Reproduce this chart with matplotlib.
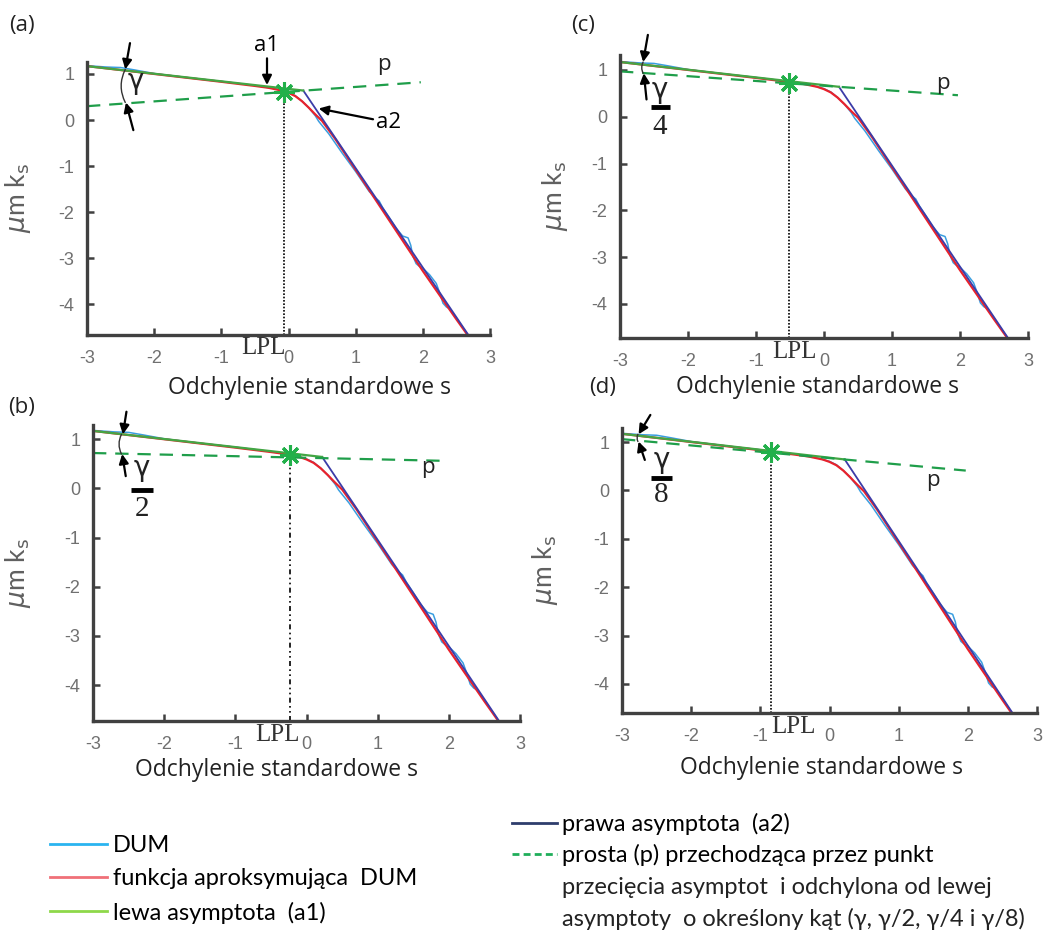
import matplotlib
matplotlib.use("Agg")
import matplotlib.pyplot as plt
from matplotlib.lines import Line2D
from matplotlib.transforms import blended_transform_factory

# --- data ---
# DUM (empirical curve), same in all four panels
dum_x = [-3.0, -2.7, -2.5, -2.3, -2.0, -1.5, -1.0, -0.5, -0.2, 0.0, 0.1, 0.2, 0.3, 0.4, 0.45,
         0.5, 0.6, 0.8, 1.0, 1.2, 1.3, 1.35, 1.4, 1.5, 1.6, 1.7, 1.78, 1.82, 1.85, 1.9, 1.95,
         2.0, 2.1, 2.2, 2.25, 2.3, 2.35, 2.4, 2.5, 2.6, 2.72]
dum_y = [1.18, 1.15, 1.14, 1.09, 1.01, 0.92, 0.84, 0.75, 0.68, 0.60, 0.53, 0.41, 0.27, 0.09, -0.03,
         -0.12, -0.30, -0.72, -1.12, -1.55, -1.70, -1.76, -1.90, -2.12, -2.35, -2.52, -2.56, -2.72, -2.95, -3.12, -3.18,
         -3.22, -3.36, -3.55, -3.75, -3.98, -4.06, -4.10, -4.30, -4.52, -4.78]

# approximating function
fit_x = [-3.0, -2.0, -1.0, -0.5, -0.3, -0.1, 0.0, 0.1, 0.2, 0.3, 0.4, 0.5, 0.7, 1.0, 1.5, 2.0, 2.5, 2.72]
fit_y = [1.17, 1.00, 0.83, 0.74, 0.70, 0.64, 0.59, 0.52, 0.41, 0.27, 0.12, -0.02, -0.42, -1.08, -2.18, -3.28, -4.33, -4.78]

# left asymptote a1 and right asymptote a2
a1_x = [-3.0, 0.22]
a1_y = [1.17, 0.64]
a2_x = [0.22, 2.72]
a2_y = [0.64, -4.76]

# line p for panels a, b, c, d
p_x = [-3.0, 1.97]
p_y = {"a": [0.30, 0.82], "b": [0.72, 0.56], "c": [0.97, 0.46], "d": [1.06, 0.41]}

# LPL points (star)
lpl_x = {"a": -0.07, "b": -0.23, "c": -0.51, "d": -0.84}
lpl_y = {"a": 0.60, "b": 0.67, "c": 0.73, "d": 0.80}

panels = ["a", "b", "c", "d"]
angle_text = {"a": None, "b": "2", "c": "4", "d": "8"}

# colours
c_dum = "#3a9ee0"
c_fit = "#e8222c"
c_a1 = "#44a644"
c_a2 = "#3c3ca8"
c_p = "#1f9e4a"
c_axis = "#404040"

sans = ["Lato", "DejaVu Sans"]
plt.rcParams["font.family"] = sans
plt.rcParams["axes.unicode_minus"] = False

fig = plt.figure(figsize=(10.48, 9.35), dpi=100)

rects = {
    "a": [87 / 1048, 1 - 335 / 935, 403 / 1048, 273 / 935],
    "b": [93 / 1048, 1 - 721 / 935, 427 / 1048, 296 / 935],
    "c": [620 / 1048, 1 - 338 / 935, 408 / 1048, 283 / 935],
    "d": [622 / 1048, 1 - 713 / 935, 415 / 1048, 285 / 935],
}
ylims = {"a": (-4.67, 1.26), "b": (-4.73, 1.29), "c": (-4.73, 1.32), "d": (-4.6, 1.29)}

# gamma annotation geometry per panel: arc x, arrow tails/heads, label positions
gam = {
    "a": dict(x=-2.43, top=(-2.36, 1.67), top_h=(-2.43, 1.10), bot=(-2.31, -0.22), bot_h=(-2.42, 0.38),
              gx=-2.28, gy=0.85),
    "b": dict(x=-2.60, top=(-2.53, 1.56), top_h=(-2.58, 1.10), bot=(-2.54, 0.25), bot_h=(-2.59, 0.70),
              gx=-2.31, gy=0.42, bar=(-2.46, -2.15, -0.04), ny=-0.41),
    "c": dict(x=-2.66, top=(-2.59, 1.75), top_h=(-2.66, 1.17), bot=(-2.61, 0.37), bot_h=(-2.65, 0.93),
              gx=-2.42, gy=0.57, bar=(-2.55, -2.27, 0.2), ny=-0.22),
    "d": dict(x=-2.77, top=(-2.59, 1.56), top_h=(-2.76, 1.16), bot=(-2.67, 0.63), bot_h=(-2.76, 1.01),
              gx=-2.42, gy=0.62, bar=(-2.58, -2.28, 0.26), ny=-0.10),
}
p_label = {"a": (1.42, 1.2), "b": (1.7, 0.43), "c": (1.75, 0.72), "d": (1.5, 0.21)}
ylabel_x = {"a": 33 / 1048, "b": 33 / 1048, "c": 570 / 1048, "d": 560 / 1048}
xlabel_pos = {"a": (0.553, -0.194), "b": (0.43, -0.166), "c": (0.483, -0.173), "d": (0.48, -0.193)}
lpl_text_x = {"a": -0.37, "b": -0.41, "c": -0.43, "d": -0.52}
tag_pos = {"a": (22, 25), "b": (22, 407), "c": (583, 25), "d": (603, 388)}

for key in panels:
    ax = fig.add_axes(rects[key])
    ax.plot(dum_x, dum_y, color=c_dum, lw=1.1)
    ax.plot(fit_x, fit_y, color=c_fit, lw=1.6)
    ax.plot(a2_x, a2_y, color=c_a2, lw=1.3)
    ax.plot(a1_x, a1_y, color=c_a1, lw=1.6)
    ax.plot(p_x, p_y[key], color=c_p, lw=1.6, ls=(0, (6, 4)), clip_on=False)
    ls = (0, (3, 2, 1, 2, 1, 2)) if key == "b" else (0, (1, 1))
    ax.plot([lpl_x[key], lpl_x[key]], [ylims[key][0], lpl_y[key]], color="black", lw=1.2, ls=ls)
    ax.plot([lpl_x[key]], [lpl_y[key]], marker=(8, 2, 0), ms=15, mew=2.2, color="#22b04a", ls="none")

    ax.set_xlim(-3, 3)
    ax.set_ylim(*ylims[key])
    ax.set_xticks(range(-3, 4))
    ax.set_yticks(range(-4, 2))
    for side in ["top", "right"]:
        ax.spines[side].set_visible(False)
    for side in ["left", "bottom"]:
        ax.spines[side].set_color(c_axis)
        ax.spines[side].set_linewidth(2.4)
    ax.tick_params(direction="in", length=5, width=1.8, colors=c_axis, labelcolor="#707070", labelsize=13)
    ax.tick_params(axis="x", pad=11)
    ax.tick_params(axis="y", pad=9)
    for lab in ax.get_xticklabels() + ax.get_yticklabels():
        lab.set_fontfamily(["Liberation Sans", "DejaVu Sans"])

    ax.set_xlabel("Odchylenie standardowe s", fontsize=16.5, color="#222222",
                  family=["Open Sans", "DejaVu Sans"], va="center")
    ax.xaxis.set_label_coords(*xlabel_pos[key])
    ax.set_ylabel(r"$\mu$m k$_\mathrm{s}$", fontsize=19, color="#606060")
    ax.yaxis.set_label_coords(ylabel_x[key], 0.5,
                              transform=blended_transform_factory(fig.transFigure, ax.transAxes))

    trans = blended_transform_factory(ax.transData, ax.transAxes)
    ax.text(lpl_text_x[key], -0.048, "LPL", transform=trans, ha="center", va="center",
            fontsize=18, family=["Liberation Serif", "DejaVu Serif"], color="#333333")

    g = gam[key]
    arrow = dict(arrowstyle="-|>", color="black", lw=1.6, mutation_scale=14, shrinkA=0, shrinkB=0)
    ax.annotate("", xy=g["top_h"], xytext=g["top"], arrowprops=arrow, annotation_clip=False)
    ax.annotate("", xy=g["bot_h"], xytext=g["bot"], arrowprops=arrow, annotation_clip=False)
    ax.annotate("", xy=(g["x"], g["bot_h"][1]), xytext=(g["x"], g["top_h"][1]),
                arrowprops=dict(arrowstyle="-", color="#333333", lw=1.0, shrinkA=0, shrinkB=0,
                                connectionstyle="arc3,rad=0.25"), annotation_clip=False)
    ax.text(g["gx"], g["gy"], "γ", fontsize=20, ha="center", va="center", color="#222222",
            family=["DejaVu Sans"])
    if angle_text[key]:
        bx0, bx1, by = g["bar"]
        ax.plot([bx0, bx1], [by, by], color="black", lw=3.5, solid_capstyle="butt")
        ax.text((bx0 + bx1) / 2, g["ny"], angle_text[key], fontsize=21, ha="center", va="center",
                family=["Liberation Serif", "DejaVu Serif"], color="#222222")

    ax.text(p_label[key][0], p_label[key][1], "p", fontsize=16, ha="center", va="center", color="#222222",
            family=["Open Sans", "DejaVu Sans"])
    fig.text(tag_pos[key][0] / 1048, 1 - tag_pos[key][1] / 935, "(%s)" % key, fontsize=16,
             ha="center", va="center", color="#222222", family=["Open Sans", "DejaVu Sans"])

    if key == "a":
        ax.annotate("a1", xy=(-0.32, 0.76), xytext=(-0.32, 1.40), fontsize=16, ha="center", va="bottom",
                    family=["Open Sans", "DejaVu Sans"],
                    arrowprops=dict(arrowstyle="-|>", color="black", lw=1.6, mutation_scale=14, shrinkA=0,
                                    shrinkB=0), annotation_clip=False)
        ax.annotate("a2", xy=(0.45, 0.25), xytext=(1.3, -0.05), fontsize=16, ha="left", va="center",
                    family=["Open Sans", "DejaVu Sans"],
                    arrowprops=dict(arrowstyle="-|>", color="black", lw=1.6, mutation_scale=14, shrinkA=0,
                                    shrinkB=0), annotation_clip=False)

# --- legends below the panels ---
left_handles = [Line2D([], [], color="#2ab4f0", lw=2),
                Line2D([], [], color="#f07078", lw=2),
                Line2D([], [], color="#8ed84a", lw=2)]
left_labels = ["DUM", "funkcja aproksymująca  DUM", "lewa asymptota  (a1)"]
fig.legend(left_handles, left_labels, loc="upper left", bbox_to_anchor=(50 / 1048, 1 - 835 / 935),
           frameon=False, fontsize=17, handlelength=2.4, handletextpad=0.25, labelspacing=0.52,
           borderpad=0, borderaxespad=0)

right_handles = [Line2D([], [], color="#2e3d6c", lw=2),
                 Line2D([], [], color="#1fae5a", lw=2, ls=(0, (2.5, 1.5)))]
right_labels = ["prawa asymptota  (a2)", "prosta (p) przechodząca przez punkt"]
fig.legend(right_handles, right_labels, loc="upper left", bbox_to_anchor=(512 / 1048, 1 - 813 / 935),
           frameon=False, fontsize=17, handlelength=1.9, handletextpad=0.2, labelspacing=0.38,
           borderpad=0, borderaxespad=0)
fig.text(562 / 1048, 1 - 888 / 935, "przecięcia asymptot  i odchylona od lewej", fontsize=17,
         ha="left", va="center", color="#222222")
fig.text(562 / 1048, 1 - 919 / 935, "asymptoty  o określony kąt (γ, γ/2, γ/4 i γ/8)", fontsize=17,
         ha="left", va="center", color="#222222")

fig.savefig("out.png", dpi=100)
